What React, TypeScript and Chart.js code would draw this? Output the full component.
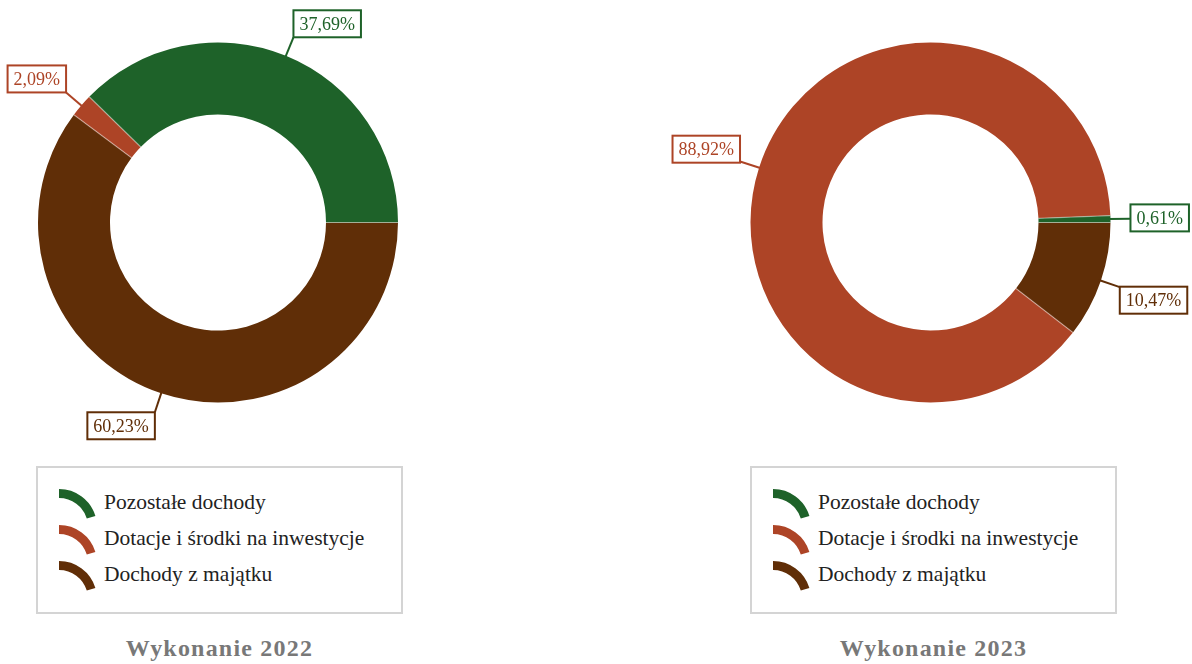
import React, { useEffect, useRef } from 'react';
import { Chart, registerables } from 'chart.js';

Chart.register(...registerables);

const categories = ['Pozostałe dochody', 'Dotacje i środki na inwestycje', 'Dochody z majątku'];
const values2022 = [37.69, 2.09, 60.23];
const values2023 = [0.61, 88.92, 10.47];
const titles = ['Wykonanie 2022', 'Wykonanie 2023'];
const colors = ['#1E6229', '#AD4426', '#602E07'];

const FONT = '"Liberation Serif", "Times New Roman", serif';
const CANVAS_W = 596;
const CANVAS_H = 450;
const CY = 222.5;
const R = 180;

function fmt(v: number) {
  return v.toFixed(2).replace('.', ',') + '%';
}

const sliceLabels = {
  id: 'sliceLabels',
  afterDatasetsDraw(chart: any) {
    const ctx = chart.ctx;
    const meta = chart.getDatasetMeta(0);
    const ds = chart.data.datasets[0];
    ctx.save();
    // separators between slices
    meta.data.forEach((arc: any) => {
      const p = arc.getProps(['x', 'y', 'startAngle', 'innerRadius', 'outerRadius'], true);
      ctx.beginPath();
      ctx.moveTo(p.x + p.innerRadius * Math.cos(p.startAngle), p.y + p.innerRadius * Math.sin(p.startAngle));
      ctx.lineTo(p.x + p.outerRadius * Math.cos(p.startAngle), p.y + p.outerRadius * Math.sin(p.startAngle));
      ctx.strokeStyle = 'rgba(255,255,255,0.4)';
      ctx.lineWidth = 1.2;
      ctx.stroke();
    });
    // labels
    ctx.font = `18px ${FONT}`;
    meta.data.forEach((arc: any, i: number) => {
      const p = arc.getProps(['x', 'y', 'startAngle', 'endAngle', 'outerRadius'], true);
      const mid = (p.startAngle + p.endAngle) / 2;
      const ux = Math.cos(mid);
      const uy = Math.sin(mid);
      const px = p.x + p.outerRadius * ux;
      const py = p.y + p.outerRadius * uy;
      const qx = px + 20 * ux;
      const qy = py + 20 * uy;
      const color = ds.backgroundColor[i];
      const text = fmt(ds.data[i]);
      const tw = ctx.measureText(text).width;
      const w = tw + 12;
      const h = 27;
      const cx = qx + Math.sign(ux) * w / 2;
      const cy = qy + (h / 2) * Math.max(-1, Math.min(1, uy * 3));
      ctx.beginPath();
      ctx.moveTo(px - ux * 2, py - uy * 2);
      ctx.lineTo(qx, qy);
      ctx.strokeStyle = color;
      ctx.lineWidth = 2;
      ctx.stroke();
      ctx.fillStyle = '#ffffff';
      ctx.fillRect(cx - w / 2, cy - h / 2, w, h);
      ctx.strokeRect(cx - w / 2, cy - h / 2, w, h);
      ctx.fillStyle = color;
      ctx.textAlign = 'center';
      ctx.textBaseline = 'middle';
      ctx.fillText(text, cx, cy + 1);
    });
    ctx.restore();
  },
};

function Doughnut({ values, cxLocal }: { values: number[]; cxLocal: number }) {
  const ref = useRef<HTMLCanvasElement>(null);
  useEffect(() => {
    if (!ref.current) return;
    // Chart.js draws clockwise; the reference runs counter-clockwise from 3 o'clock
    const order = values.map((_, i) => i).reverse();
    const chart = new Chart(ref.current, {
      type: 'doughnut',
      data: {
        labels: order.map((i) => categories[i]),
        datasets: [
          {
            data: order.map((i) => values[i]),
            backgroundColor: order.map((i) => colors[i]),
            borderWidth: 0,
            radius: R,
          } as any,
        ],
      },
      options: {
        responsive: false,
        animation: false,
        rotation: 90,
        cutout: '60%',
        layout: {
          padding: {
            left: cxLocal - R,
            right: CANVAS_W - (cxLocal + R),
            top: CY - R,
            bottom: CANVAS_H - (CY + R),
          },
        },
        plugins: {
          legend: { display: false },
          tooltip: { enabled: false },
        },
      } as any,
      plugins: [sliceLabels],
    });
    return () => chart.destroy();
  }, [values, cxLocal]);
  return <canvas ref={ref} width={CANVAS_W} height={CANVAS_H} style={{ display: 'block' }} />;
}

function LegendIcon({ color }: { color: string }) {
  return (
    <svg width={40} height={31} style={{ position: 'absolute', left: 21, top: 5 }}>
      <path d="M 0 0 A 38 38 0 0 1 36.4 27 L 27.8 29.6 A 29 29 0 0 0 0 9 Z" fill={color} />
    </svg>
  );
}

function Panel({ values, title, left, cxLocal, boxLeft }: { values: number[]; title: string; left: number; cxLocal: number; boxLeft: number }) {
  return (
    <>
      <div style={{ position: 'absolute', left, top: 0 }}>
        <Doughnut values={values} cxLocal={cxLocal} />
      </div>
      <div
        style={{
          position: 'absolute',
          left: boxLeft,
          top: 466,
          width: 367,
          height: 148,
          boxSizing: 'border-box',
          border: '2px solid #d4d4d4',
        }}
      >
        {categories.map((c, i) => (
          <div key={c} style={{ position: 'absolute', left: 0, top: 16 + i * 36, height: 36, width: 360 }}>
            <LegendIcon color={colors[i]} />
            <div
              style={{
                position: 'absolute',
                left: 66,
                top: 0,
                lineHeight: '36px',
                fontSize: 21.5,
                fontFamily: FONT,
                color: '#222',
                whiteSpace: 'nowrap',
              }}
            >
              {c}
            </div>
          </div>
        ))}
      </div>
      <div
        style={{
          position: 'absolute',
          left: boxLeft,
          width: 367,
          top: 634,
          textAlign: 'center',
          fontFamily: FONT,
          fontWeight: 'bold',
          fontSize: 24,
          letterSpacing: '1.2px',
          lineHeight: '28px',
          color: '#787878',
          whiteSpace: 'nowrap',
        }}
      >
        {title}
      </div>
    </>
  );
}

export default function App() {
  return (
    <div style={{ position: 'absolute', left: 0, top: 0, width: 1192, height: 664, background: '#fff', overflow: 'hidden' }}>
      <Panel values={values2022} title={titles[0]} left={0} cxLocal={218} boxLeft={36} />
      <Panel values={values2023} title={titles[1]} left={596} cxLocal={930.5 - 596} boxLeft={750} />
    </div>
  );
}
